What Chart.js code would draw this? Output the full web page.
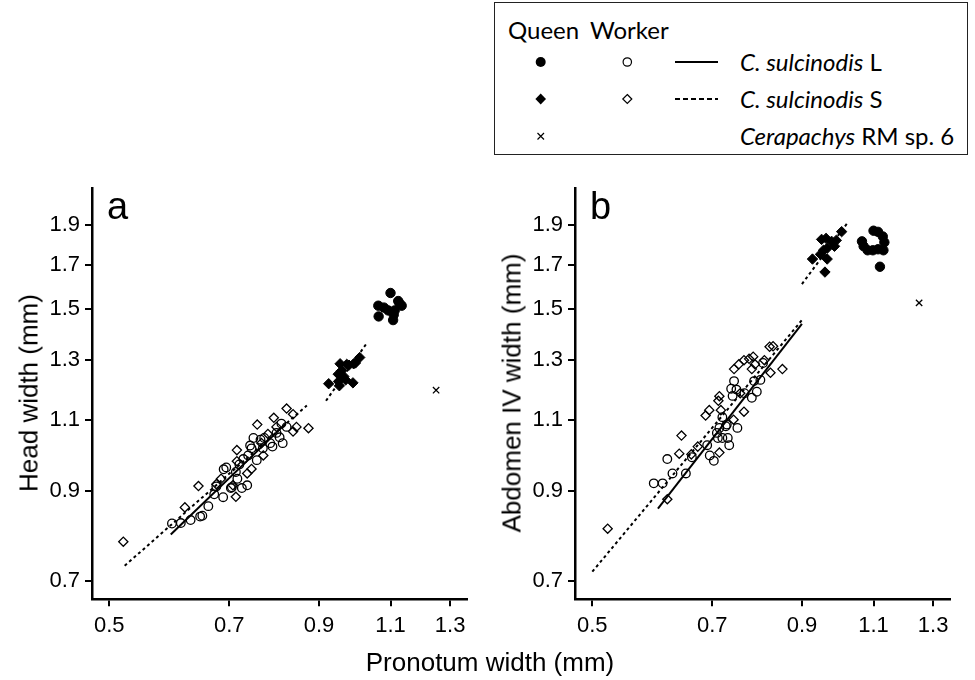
<!DOCTYPE html>
<html><head><meta charset="utf-8">
<script src="https://cdn.jsdelivr.net/npm/chart.js@4/dist/chart.umd.min.js"></script>
<style>
html,body{margin:0;padding:0;background:#fff;}
body{width:975px;height:680px;position:relative;overflow:hidden;font-family:"Liberation Sans",Arial,sans-serif;color:#000;}
canvas.cv{position:absolute;top:170px;}
.t{position:absolute;white-space:nowrap;}
.rot{transform:translate(-50%,-50%) rotate(-90deg);font-size:26px;}
#legend{position:absolute;left:494px;top:2px;width:474px;height:153px;border:1.5px solid #222;box-sizing:border-box;}
.lg{position:absolute;font-family:Lato,"Open Sans",sans-serif;font-size:24px;line-height:24px;white-space:nowrap;}
</style></head><body>

<div id="legend"></div>
<svg id="lsym" width="975" height="160" style="position:absolute;left:0;top:0"></svg>
<div class="lg" style="left:508px;top:18px">Queen</div>
<div class="lg" style="left:590px;top:18px">Worker</div>
<div class="lg" style="left:740px;top:50px"><i>C. sulcinodis</i> L</div>
<div class="lg" style="left:740px;top:87px"><i>C. sulcinodis</i> S</div>
<div class="lg" style="left:740px;top:124px"><i>Cerapachys</i> RM sp. 6</div>

<canvas id="ca" class="cv" width="480" height="510" style="left:0px"></canvas>
<canvas id="cb" class="cv" width="480" height="510" style="left:483px"></canvas>

<div class="t" style="left:107px;top:187px;font-size:38px;line-height:38px">a</div>
<div class="t" style="left:590px;top:187px;font-size:38px;line-height:38px">b</div>
<div class="t rot" style="left:29px;top:393px">Head width (mm)</div>
<div class="t rot" style="left:512px;top:393px">Abdomen IV width (mm)</div>
<div class="t" style="left:490px;top:662px;font-size:26px;transform:translate(-50%,-50%)">Pronotum width (mm)</div>

<script>
// ---- tick labels ----
const xTicks = [0.5, 0.7, 0.9, 1.1, 1.3];
const yTicks = [0.7, 0.9, 1.1, 1.3, 1.5, 1.7, 1.9];

// ---- panel a : head width vs pronotum width ----
const aQueenL = [[1.100,1.570],[1.124,1.535],[1.135,1.515],[1.128,1.525],[1.063,1.515],[1.080,1.507],[1.093,1.495],[1.113,1.495],[1.064,1.470],[1.110,1.477],[1.108,1.455]];
const aQueenS = [[0.925,1.217],[0.953,1.210],[0.990,1.220],[1.009,1.310],[0.955,1.287],[0.973,1.285],[0.992,1.287],[0.997,1.290],[0.950,1.250],[0.965,1.242],[0.970,1.230],[0.951,1.225],[0.979,1.282],[0.959,1.262]];
const aWorkerL = [[0.749,1.045],[0.742,1.023],[0.813,1.030],[0.790,1.020],[0.806,1.047],[0.772,1.045],[0.756,0.982],[0.738,0.995],[0.716,0.932],[0.725,0.908],[0.736,0.915],[0.703,0.908],[0.689,0.957],[0.694,0.962],[0.688,0.885],[0.660,0.863],[0.645,0.838],[0.628,0.830],[0.596,0.822],[0.611,0.823],[0.713,0.950],[0.675,0.912],[0.720,0.970],[0.769,1.015],[0.799,1.060],[0.785,1.030],[0.728,0.985],[0.745,1.015],[0.764,1.040],[0.822,1.078],[0.810,1.088],[0.649,0.840],[0.671,0.892],[0.705,0.910]];
const aWorkerS = [[0.822,1.135],[0.837,1.117],[0.793,1.106],[0.757,1.085],[0.845,1.078],[0.874,1.074],[0.837,1.064],[0.715,1.010],[0.780,1.057],[0.770,0.995],[0.642,0.913],[0.713,0.886],[0.736,0.946],[0.715,0.979],[0.707,0.915],[0.745,0.958],[0.766,1.030],[0.799,1.078],[0.684,0.932],[0.675,0.918],[0.520,0.781],[0.618,0.860]];
const aOther = [[1.250,1.195]];
const aLineL = [[0.594,0.797],[0.820,1.088]];
const aLineS_worker = [[0.522,0.730],[0.870,1.145]];
const aLineS_queen = [[0.918,1.160],[1.031,1.367]];

// ---- panel b : abdomen IV width vs pronotum width ----
const bQueenL = [[1.100,1.870],[1.114,1.864],[1.129,1.840],[1.134,1.810],[1.065,1.815],[1.070,1.790],[1.082,1.770],[1.098,1.770],[1.114,1.775],[1.131,1.770],[1.120,1.690]];
const bQueenS = [[0.927,1.727],[0.960,1.665],[0.951,1.825],[0.963,1.830],[0.978,1.815],[0.991,1.820],[1.006,1.865],[0.986,1.790],[0.966,1.780],[0.956,1.770],[0.966,1.727],[0.948,1.750]];
const bWorkerL = [[0.594,0.920],[0.609,0.920],[0.617,0.985],[0.626,0.946],[0.650,0.946],[0.661,0.990],[0.695,0.995],[0.703,0.980],[0.734,1.024],[0.690,1.024],[0.744,1.226],[0.738,1.200],[0.749,1.197],[0.741,1.176],[0.766,1.185],[0.787,1.226],[0.793,1.190],[0.782,1.170],[0.801,1.230],[0.807,1.290],[0.720,1.108],[0.729,1.085],[0.714,1.075],[0.751,1.075],[0.711,1.045],[0.720,1.045],[0.731,1.045],[0.709,1.060],[0.727,1.080]];
const bWorkerS = [[0.522,0.810],[0.617,0.880],[0.638,1.000],[0.672,1.020],[0.714,1.003],[0.642,1.052],[0.687,1.113],[0.694,1.130],[0.714,1.175],[0.712,1.160],[0.717,1.130],[0.744,1.268],[0.754,1.285],[0.765,1.300],[0.776,1.305],[0.785,1.313],[0.789,1.285],[0.782,1.268],[0.822,1.350],[0.830,1.352],[0.824,1.255],[0.852,1.268],[0.765,1.125],[0.743,1.100],[0.757,1.185],[0.660,0.998],[0.810,1.300]];
const bOther = [[1.250,1.527]];
const bLineL = [[0.601,0.857],[0.900,1.440]];
const bLineS_worker = [[0.500,0.718],[0.900,1.455]];
const bLineS_queen = [[0.900,1.610],[1.024,1.915]];

// ---- axis limits ----
const xMin = 0.4763, xMax = 1.362;
const yMin = 0.6644, yMax = 2.107;

const P = a => a.map(([x,y]) => ({x, y}));

function scale(min, max, ticksArr, isX){
  return {
    type:'logarithmic', min, max,
    afterBuildTicks: s => { s.ticks = ticksArr.map(v => ({value:v})); },
    afterFit: s => { if (isX) s.height = 80.7; else s.width = 92; },
    ticks:{color:'#000', font:{family:'Liberation Sans', size:22}, padding:isX?6:5, autoSkip:false, maxRotation:0,
      callback: v => Number(v).toFixed(1)},
    grid:{display:true, drawOnChartArea:false, drawTicks:true, tickLength:7, color:'#000', lineWidth:2},
    border:{display:true, color:'#000', width:2.5}
  };
}

function pts(data, style, r, filled){
  return {data:P(data), pointStyle:style, pointRadius:r, pointHoverRadius:r,
    backgroundColor: filled ? '#000' : 'rgba(0,0,0,0)', borderColor:'#000',
    pointBorderWidth: filled ? 1 : 1.3, showLine:false};
}
function line(data, dashed){
  return {data:P(data), showLine:true, pointRadius:0, borderColor:'#000', borderWidth:2,
    borderDash: dashed ? [3,3] : [], fill:false};
}

function makeChart(id, d){
  new Chart(document.getElementById(id), {
    type:'scatter',
    data:{datasets:[
      line(d.lineL, false), line(d.lineSw, true), line(d.lineSq, true),
      pts(d.wL, 'circle', 4.3, false), pts(d.wS, 'rectRot', 4.6, false),
      pts(d.qL, 'circle', 4.7, true), pts(d.qS, 'rectRot', 5.2, true),
      pts(d.o, 'crossRot', 4.5, false)
    ]},
    options:{
      responsive:false, animation:false, devicePixelRatio:1,
      layout:{padding:{top:17, right:13.3, left:0, bottom:0}},
      plugins:{legend:{display:false}, tooltip:{enabled:false}},
      scales:{x:scale(xMin, xMax, xTicks, true), y:scale(yMin, yMax, yTicks, false)}
    }
  });
}

makeChart('ca', {qL:aQueenL, qS:aQueenS, wL:aWorkerL, wS:aWorkerS, o:aOther, lineL:aLineL, lineSw:aLineS_worker, lineSq:aLineS_queen});
makeChart('cb', {qL:bQueenL, qS:bQueenS, wL:bWorkerL, wS:bWorkerS, o:bOther, lineL:bLineL, lineSw:bLineS_worker, lineSq:bLineS_queen});

// ---- legend symbols ----
const svg = document.getElementById('lsym');
svg.innerHTML =
  '<circle cx="540.7" cy="62" r="5" fill="#000"/>' +
  '<circle cx="627.3" cy="62" r="4.2" fill="none" stroke="#000" stroke-width="1.2"/>' +
  '<line x1="675" y1="62" x2="718" y2="62" stroke="#000" stroke-width="2"/>' +
  '<path d="M540.7 93.5 L546 99 L540.7 104.5 L535.4 99 Z" fill="#000"/>' +
  '<path d="M627.3 94.5 L631.8 99 L627.3 103.5 L622.8 99 Z" fill="none" stroke="#000" stroke-width="1.2"/>' +
  '<line x1="675" y1="99" x2="718" y2="99" stroke="#000" stroke-width="2" stroke-dasharray="5 3"/>' +
  '<path d="M537.5 133 L544 139.5 M544 133 L537.5 139.5" stroke="#000" stroke-width="1.2"/>';
</script>
</body></html>
